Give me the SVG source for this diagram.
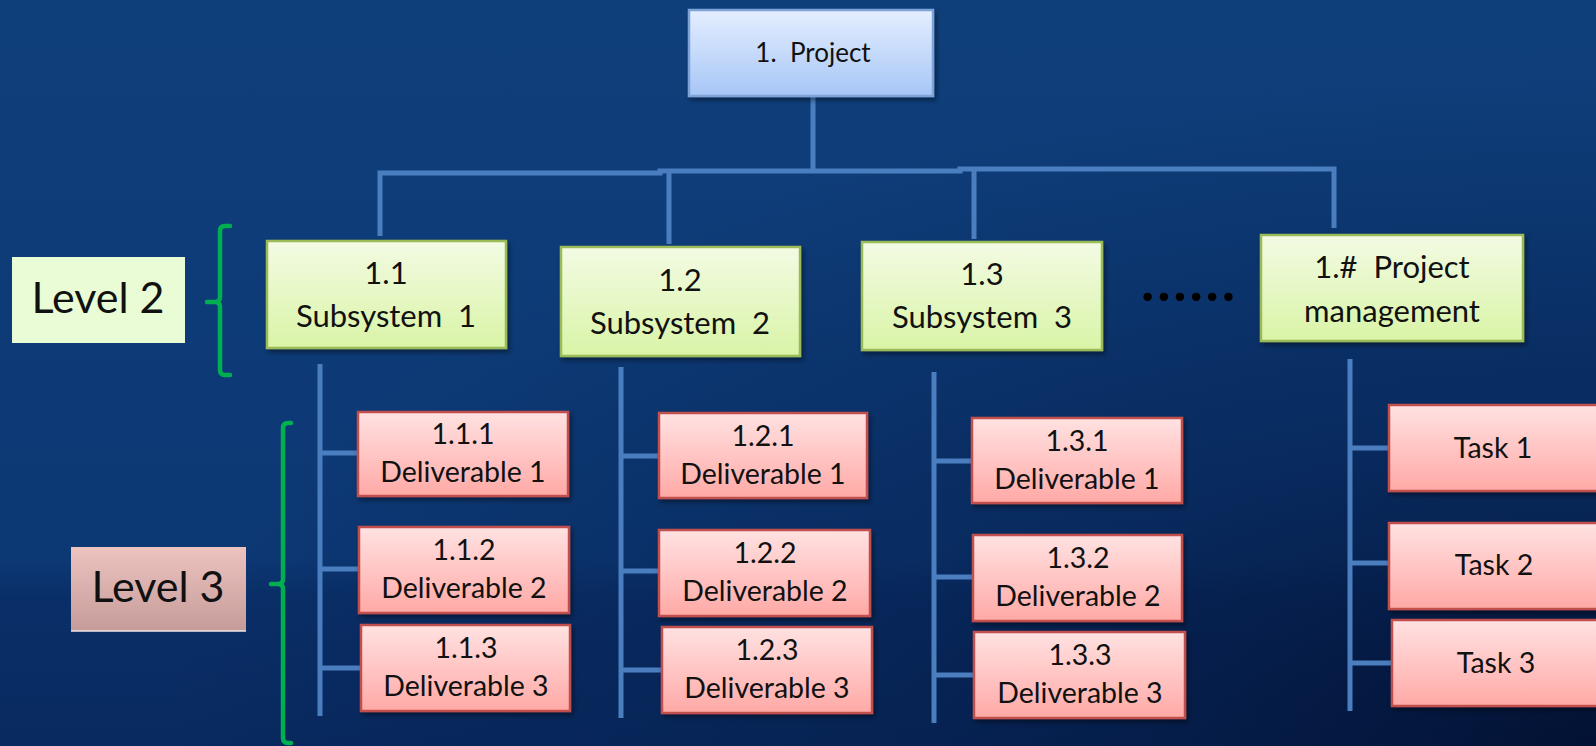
<svg xmlns="http://www.w3.org/2000/svg" width="1596" height="746" viewBox="0 0 1596 746">
<defs>
<linearGradient id="bg" x1="0" y1="0" x2="0" y2="1">
<stop offset="0" stop-color="#0f3f7b"/>
<stop offset="0.75" stop-color="#0c3874"/>
<stop offset="0.8" stop-color="#0a2f68"/>
<stop offset="1" stop-color="#082a60"/>
</linearGradient>
<radialGradient id="dark" cx="1" cy="1" r="0.9" gradientUnits="objectBoundingBox">
<stop offset="0" stop-color="#020f2e" stop-opacity="0.9"/>
<stop offset="0.5" stop-color="#041a45" stop-opacity="0.45"/>
<stop offset="1" stop-color="#041a45" stop-opacity="0"/>
</radialGradient>
<linearGradient id="gGreen" x1="0" y1="0" x2="0" y2="1">
<stop offset="0" stop-color="#f3fbe4"/>
<stop offset="1" stop-color="#d9f4a6"/>
</linearGradient>
<linearGradient id="gPink" x1="0" y1="0" x2="0" y2="1">
<stop offset="0" stop-color="#ffe2e2"/>
<stop offset="1" stop-color="#ffa9a6"/>
</linearGradient>
<linearGradient id="gBlue" x1="0" y1="0" x2="0" y2="1">
<stop offset="0" stop-color="#e4eeff"/>
<stop offset="1" stop-color="#a7c6f6"/>
</linearGradient>
<linearGradient id="gL3" x1="0" y1="0" x2="0" y2="1">
<stop offset="0" stop-color="#ecc3bf"/>
<stop offset="1" stop-color="#c69c9a"/>
</linearGradient>
<filter id="sh" x="-10%" y="-10%" width="130%" height="140%">
<feDropShadow dx="2" dy="3" stdDeviation="2.5" flood-color="#000" flood-opacity="0.45"/>
</filter>
</defs>
<style>
.t{font-family:Lato,"Liberation Sans",sans-serif;fill:#111;text-anchor:middle}
.green{fill:url(#gGreen);stroke:#9bbb59;stroke-width:2.5}
.pink{fill:url(#gPink);stroke:#c0504d;stroke-width:2.5}
.blue{fill:url(#gBlue);stroke:#7ea3d8;stroke-width:2.5}
.con{stroke:#4a7ebf;stroke-width:5;fill:none}
.brace{stroke:#00b050;stroke-width:4.5;fill:none;stroke-linecap:round}
.s30{font-size:31px}
.s28{font-size:28.5px}
</style>
<rect width="1596" height="746" fill="url(#bg)"/>
<rect width="1596" height="746" fill="url(#dark)"/>

<g id="connectors">
<path class="con" d="M813 96 V171"/>
<path class="con" d="M380 236 V173 H660 V171 H960 V169 H1334 V228"/>
<path class="con" d="M669 170 V244"/>
<path class="con" d="M974 169 V239"/>
<path class="con" d="M320 364 V716 M320 453 H359 M320 569 H359 M320 668 H361"/>
<path class="con" d="M621 367 V718 M621 456 H659 M621 571 H659 M621 670 H662"/>
<path class="con" d="M934 372 V723 M934 461 H972 M934 577 H973 M934 675 H974"/>
<path class="con" d="M1350 359 V711 M1350 448 H1389 M1350 563 H1389 M1350 663 H1392"/>
</g>

<g id="level2">
<rect x="12" y="257" width="173" height="86" fill="#e9fcd6"/>
<text class="t" x="98" y="313" font-size="43px">Level 2</text>
</g>
<g id="level2-brace">
<path class="brace" d="M230 226 H225 Q220 226 220 231 V297 Q220 302 215 302 H207 M215 302 Q220 302 220 307 V370 Q220 375 225 375 H230"/>
</g>
<g id="level3">
<rect x="71" y="547" width="175" height="84" fill="url(#gL3)"/>
<line x1="71" y1="631" x2="246" y2="631" stroke="#f2e4e4" stroke-width="1.5"/>
<text class="t" x="158" y="602" font-size="43px">Level 3</text>
</g>
<g id="level3-brace">
<path class="brace" d="M291 423 H288 Q283 423 283 428 V579 Q283 584 278 584 H271 M278 584 Q283 584 283 589 V738 Q283 743 288 743 H291"/>
</g>

<g id="n1">
<rect class="blue" x="689" y="10" width="244" height="86" filter="url(#sh)"/>
<text class="t" x="813" y="62" font-size="26px" xml:space="preserve">1.  Project</text>
</g>

<g id="n1-1">
<rect class="green" x="267" y="241" width="239" height="107" filter="url(#sh)"/>
<text class="t s30" x="386" y="284">1.1</text>
<text class="t s30" x="386" y="327" xml:space="preserve">Subsystem  1</text>
</g>
<g id="n1-2">
<rect class="green" x="561" y="247" width="239" height="109" filter="url(#sh)"/>
<text class="t s30" x="680" y="291">1.2</text>
<text class="t s30" x="680" y="334" xml:space="preserve">Subsystem  2</text>
</g>
<g id="n1-3">
<rect class="green" x="862" y="242" width="240" height="108" filter="url(#sh)"/>
<text class="t s30" x="982" y="285">1.3</text>
<text class="t s30" x="982" y="328" xml:space="preserve">Subsystem  3</text>
</g>
<g id="dots">
<text x="1141" y="301" font-family="Lato,'Liberation Sans',sans-serif" font-weight="bold" font-size="56px" fill="#000" textLength="94" lengthAdjust="spacing">......</text>
</g>
<g id="n1-pm">
<rect class="green" x="1261" y="235" width="262" height="106" filter="url(#sh)"/>
<text class="t s30" x="1392" y="278" xml:space="preserve">1.#  Project</text>
<text class="t s30" x="1392" y="322">management</text>
</g>

<g id="n1-1-1">
<rect class="pink" x="358" y="412" width="210" height="84" filter="url(#sh)"/>
<text class="t s28" x="463" y="444">1.1.1</text>
<text class="t s28" x="463" y="482">Deliverable 1</text>
</g>
<g id="n1-1-2">
<rect class="pink" x="359" y="527" width="210" height="86" filter="url(#sh)"/>
<text class="t s28" x="464" y="560">1.1.2</text>
<text class="t s28" x="464" y="598">Deliverable 2</text>
</g>
<g id="n1-1-3">
<rect class="pink" x="361" y="625" width="209" height="86" filter="url(#sh)"/>
<text class="t s28" x="466" y="658">1.1.3</text>
<text class="t s28" x="466" y="696">Deliverable 3</text>
</g>

<g id="n1-2-1">
<rect class="pink" x="659" y="413" width="208" height="85" filter="url(#sh)"/>
<text class="t s28" x="763" y="446">1.2.1</text>
<text class="t s28" x="763" y="484">Deliverable 1</text>
</g>
<g id="n1-2-2">
<rect class="pink" x="659" y="530" width="211" height="86" filter="url(#sh)"/>
<text class="t s28" x="765" y="563">1.2.2</text>
<text class="t s28" x="765" y="601">Deliverable 2</text>
</g>
<g id="n1-2-3">
<rect class="pink" x="662" y="627" width="210" height="86" filter="url(#sh)"/>
<text class="t s28" x="767" y="660">1.2.3</text>
<text class="t s28" x="767" y="698">Deliverable 3</text>
</g>

<g id="n1-3-1">
<rect class="pink" x="972" y="418" width="210" height="85" filter="url(#sh)"/>
<text class="t s28" x="1077" y="451">1.3.1</text>
<text class="t s28" x="1077" y="489">Deliverable 1</text>
</g>
<g id="n1-3-2">
<rect class="pink" x="973" y="535" width="209" height="86" filter="url(#sh)"/>
<text class="t s28" x="1078" y="568">1.3.2</text>
<text class="t s28" x="1078" y="606">Deliverable 2</text>
</g>
<g id="n1-3-3">
<rect class="pink" x="974" y="632" width="211" height="86" filter="url(#sh)"/>
<text class="t s28" x="1080" y="665">1.3.3</text>
<text class="t s28" x="1080" y="703">Deliverable 3</text>
</g>

<g id="task1">
<rect class="pink" x="1389" y="405" width="220" height="86" filter="url(#sh)"/>
<text class="t s28" x="1493" y="458">Task 1</text>
</g>
<g id="task2">
<rect class="pink" x="1389" y="523" width="220" height="86" filter="url(#sh)"/>
<text class="t s28" x="1494" y="575">Task 2</text>
</g>
<g id="task3">
<rect class="pink" x="1392" y="620" width="220" height="86" filter="url(#sh)"/>
<text class="t s28" x="1496" y="673">Task 3</text>
</g>
</svg>
